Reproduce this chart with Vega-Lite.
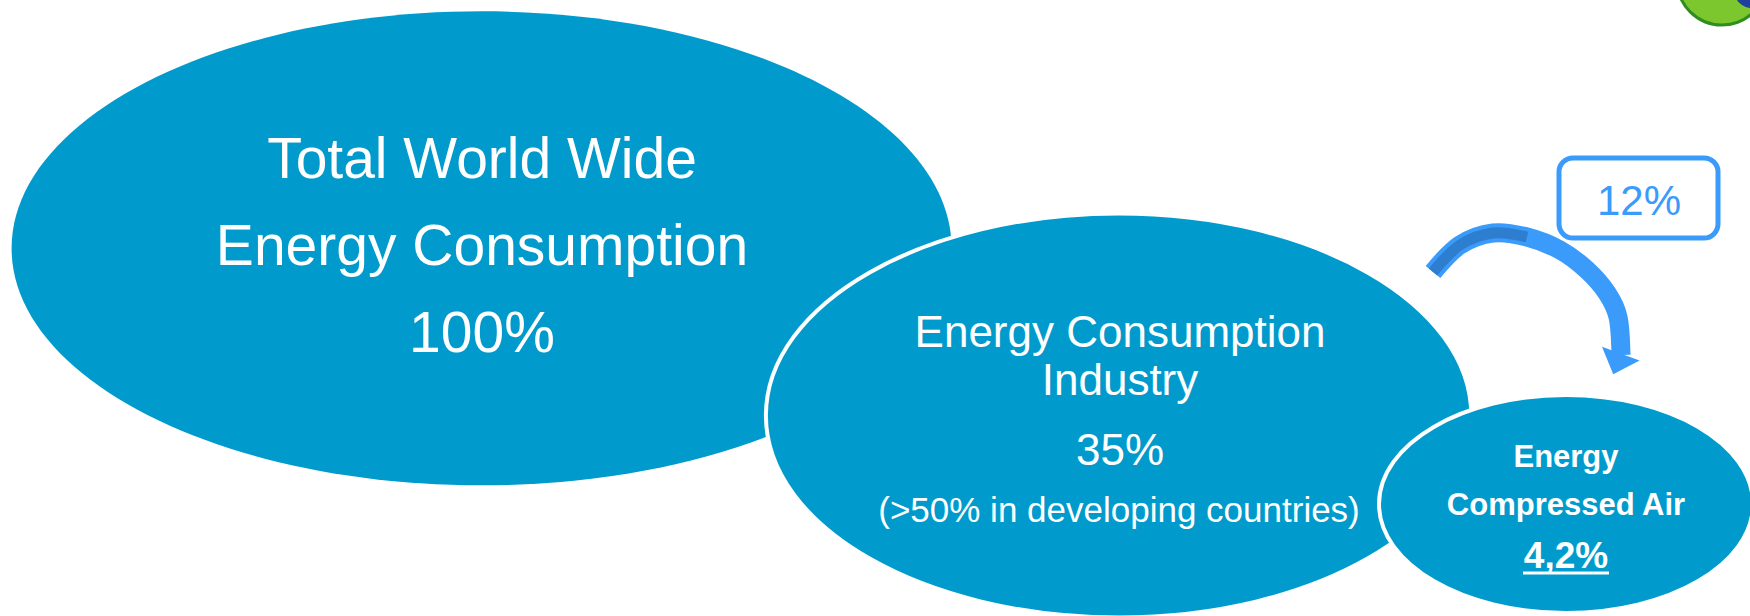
{
  "$schema": "https://vega.github.io/schema/vega-lite/v6.json",
  "width": 1750,
  "height": 616,
  "autosize": {"type": "none"},
  "padding": 0,
  "background": "white",
  "config": {"view": {"stroke": null}},
  "datasets": {
    "ellipses": [
      {"name": "Total", "cx": 481.6, "cy": 248.3},
      {"name": "Industry", "cx": 1118.6, "cy": 415.5},
      {"name": "CompressedAir", "cx": 1566, "cy": 504}
    ],
    "labels": [
      {"group": "big", "text": "Total World Wide", "x": 482, "y": 178},
      {"group": "big", "text": "Energy Consumption", "x": 482, "y": 265},
      {"group": "big", "text": "100%", "x": 482, "y": 352},
      {"group": "mid", "text": "Energy Consumption", "x": 1120, "y": 347},
      {"group": "mid", "text": "Industry", "x": 1120, "y": 395},
      {"group": "mid", "text": "35%", "x": 1120, "y": 465},
      {"group": "midsub", "text": "(>50% in developing countries)", "x": 1119, "y": 522},
      {"group": "small", "text": "Energy", "x": 1566, "y": 467},
      {"group": "small", "text": "Compressed Air", "x": 1566, "y": 515},
      {"group": "smallpct", "text": "4,2%", "x": 1566, "y": 568},
      {"group": "box", "text": "12%", "x": 1639, "y": 215}
    ],
    "box": [{"label": "12%", "x": 1559, "x2": 1718, "y": 158, "y2": 238}],
    "arrow": [
      {"i": 0, "x": 1433, "y": 272},
      {"i": 1, "x": 1460, "y": 245},
      {"i": 2, "x": 1493, "y": 233},
      {"i": 3, "x": 1527, "y": 237},
      {"i": 4, "x": 1560, "y": 250},
      {"i": 5, "x": 1587, "y": 270},
      {"i": 6, "x": 1607, "y": 293},
      {"i": 7, "x": 1618, "y": 317},
      {"i": 8, "x": 1621, "y": 355}
    ],
    "head": [{"x": 1617, "y": 364}],
    "underline": [{"x": 1523, "x2": 1609, "y": 573}],
    "logo": [{"part": "green", "x": 1722, "y": -20}, {"part": "blue", "x": 1752, "y": -10}]
  },
  "layer": [
    {
      "data": {"name": "ellipses"},
      "transform": [{"filter": "datum.name === 'Total'"}],
      "mark": {"type": "point", "filled": true, "opacity": 1, "fill": "#009BCC", "strokeWidth": 0, "size": 883600,
        "shape": "M -1 0 C -1 -0.2785 -0.5523 -0.5043 0 -0.5043 C 0.5523 -0.5043 1 -0.2785 1 0 C 1 0.2785 0.5523 0.5043 0 0.5043 C -0.5523 0.5043 -1 0.2785 -1 0 Z"},
      "encoding": {
        "x": {"field": "cx", "type": "quantitative", "scale": {"domain": [0, 1750], "nice": false, "zero": false}, "axis": null},
        "y": {"field": "cy", "type": "quantitative", "scale": {"domain": [0, 616], "nice": false, "zero": false, "reverse": true}, "axis": null}
      }
    },
    {
      "data": {"name": "ellipses"},
      "transform": [{"filter": "datum.name === 'Industry'"}],
      "mark": {"type": "point", "filled": true, "opacity": 1, "fill": "#009BCC", "stroke": "white", "strokeWidth": 4, "size": 497589,
        "shape": "M -1 0 C -1 -0.3162 -0.5523 -0.5727 0 -0.5727 C 0.5523 -0.5727 1 -0.3162 1 0 C 1 0.3162 0.5523 0.5727 0 0.5727 C -0.5523 0.5727 -1 0.3162 -1 0 Z"},
      "encoding": {
        "x": {"field": "cx", "type": "quantitative", "axis": null},
        "y": {"field": "cy", "type": "quantitative", "axis": null}
      }
    },
    {
      "data": {"name": "ellipses"},
      "transform": [{"filter": "datum.name === 'CompressedAir'"}],
      "mark": {"type": "point", "filled": true, "opacity": 1, "fill": "#009BCC", "stroke": "white", "strokeWidth": 4, "size": 139876,
        "shape": "M -1 0 C -1 -0.3219 -0.5523 -0.5829 0 -0.5829 C 0.5523 -0.5829 1 -0.3219 1 0 C 1 0.3219 0.5523 0.5829 0 0.5829 C -0.5523 0.5829 -1 0.3219 -1 0 Z"},
      "encoding": {
        "x": {"field": "cx", "type": "quantitative", "axis": null},
        "y": {"field": "cy", "type": "quantitative", "axis": null}
      }
    },
    {
      "data": {"name": "box"},
      "mark": {"type": "rect", "fill": "white", "stroke": "#3A9BFB", "strokeWidth": 5, "cornerRadius": 14},
      "encoding": {
        "x": {"field": "x", "type": "quantitative", "axis": null},
        "x2": {"field": "x2"},
        "y": {"field": "y", "type": "quantitative", "axis": null},
        "y2": {"field": "y2"}
      }
    },
    {
      "data": {"name": "arrow"},
      "mark": {"type": "line", "color": "#3A9BFB", "strokeWidth": 19, "interpolate": "cardinal", "strokeCap": "butt"},
      "encoding": {
        "x": {"field": "x", "type": "quantitative", "axis": null},
        "y": {"field": "y", "type": "quantitative", "axis": null},
        "order": {"field": "i", "type": "quantitative"}
      }
    },
    {
      "data": {"name": "arrow"},
      "transform": [{"filter": "datum.i <= 3"}],
      "mark": {"type": "line", "color": "#2E7ED0", "strokeWidth": 11, "interpolate": "cardinal", "strokeCap": "butt"},
      "encoding": {
        "x": {"field": "x", "type": "quantitative", "axis": null},
        "y": {"field": "y", "type": "quantitative", "axis": null},
        "order": {"field": "i", "type": "quantitative"}
      }
    },
    {
      "data": {"name": "head"},
      "mark": {"type": "point", "filled": true, "opacity": 1, "fill": "#3A9BFB", "strokeWidth": 0, "size": 1600, "angle": 20,
        "shape": "M -1 -0.55 L 1 -0.55 L 0 0.55 Z"},
      "encoding": {
        "x": {"field": "x", "type": "quantitative", "axis": null},
        "y": {"field": "y", "type": "quantitative", "axis": null}
      }
    },
    {
      "data": {"name": "logo"},
      "transform": [{"filter": "datum.part === 'green'"}],
      "mark": {"type": "point", "filled": true, "opacity": 1, "fill": "#7CC72E", "stroke": "#2F8F1E", "strokeWidth": 3, "size": 8100, "shape": "circle"},
      "encoding": {
        "x": {"field": "x", "type": "quantitative", "axis": null},
        "y": {"field": "y", "type": "quantitative", "axis": null}
      }
    },
    {
      "data": {"name": "logo"},
      "transform": [{"filter": "datum.part === 'blue'"}],
      "mark": {"type": "point", "filled": true, "opacity": 1, "fill": "#1F3F9F", "strokeWidth": 0, "size": 1300, "shape": "circle"},
      "encoding": {
        "x": {"field": "x", "type": "quantitative", "axis": null},
        "y": {"field": "y", "type": "quantitative", "axis": null}
      }
    },
    {
      "data": {"name": "labels"},
      "transform": [{"filter": "datum.group === 'big'"}],
      "mark": {"type": "text", "font": "Liberation Sans", "fontSize": 57, "color": "white", "align": "center", "baseline": "alphabetic"},
      "encoding": {
        "x": {"field": "x", "type": "quantitative", "axis": null},
        "y": {"field": "y", "type": "quantitative", "axis": null},
        "text": {"field": "text"}
      }
    },
    {
      "data": {"name": "labels"},
      "transform": [{"filter": "datum.group === 'mid'"}],
      "mark": {"type": "text", "font": "Liberation Sans", "fontSize": 44, "color": "white", "align": "center", "baseline": "alphabetic"},
      "encoding": {
        "x": {"field": "x", "type": "quantitative", "axis": null},
        "y": {"field": "y", "type": "quantitative", "axis": null},
        "text": {"field": "text"}
      }
    },
    {
      "data": {"name": "labels"},
      "transform": [{"filter": "datum.group === 'midsub'"}],
      "mark": {"type": "text", "font": "Liberation Sans", "fontSize": 35, "color": "white", "align": "center", "baseline": "alphabetic"},
      "encoding": {
        "x": {"field": "x", "type": "quantitative", "axis": null},
        "y": {"field": "y", "type": "quantitative", "axis": null},
        "text": {"field": "text"}
      }
    },
    {
      "data": {"name": "labels"},
      "transform": [{"filter": "datum.group === 'small'"}],
      "mark": {"type": "text", "font": "Liberation Sans", "fontSize": 31, "fontWeight": "bold", "color": "white", "align": "center", "baseline": "alphabetic"},
      "encoding": {
        "x": {"field": "x", "type": "quantitative", "axis": null},
        "y": {"field": "y", "type": "quantitative", "axis": null},
        "text": {"field": "text"}
      }
    },
    {
      "data": {"name": "labels"},
      "transform": [{"filter": "datum.group === 'smallpct'"}],
      "mark": {"type": "text", "font": "Liberation Sans", "fontSize": 37, "fontWeight": "bold", "color": "white", "align": "center", "baseline": "alphabetic"},
      "encoding": {
        "x": {"field": "x", "type": "quantitative", "axis": null},
        "y": {"field": "y", "type": "quantitative", "axis": null},
        "text": {"field": "text"}
      }
    },
    {
      "data": {"name": "underline"},
      "mark": {"type": "rule", "color": "white", "strokeWidth": 3},
      "encoding": {
        "x": {"field": "x", "type": "quantitative", "axis": null},
        "x2": {"field": "x2"},
        "y": {"field": "y", "type": "quantitative", "axis": null}
      }
    },
    {
      "data": {"name": "labels"},
      "transform": [{"filter": "datum.group === 'box'"}],
      "mark": {"type": "text", "font": "Liberation Sans", "fontSize": 42, "color": "#3A9BFB", "align": "center", "baseline": "alphabetic"},
      "encoding": {
        "x": {"field": "x", "type": "quantitative", "axis": null},
        "y": {"field": "y", "type": "quantitative", "axis": null},
        "text": {"field": "text"}
      }
    }
  ]
}
